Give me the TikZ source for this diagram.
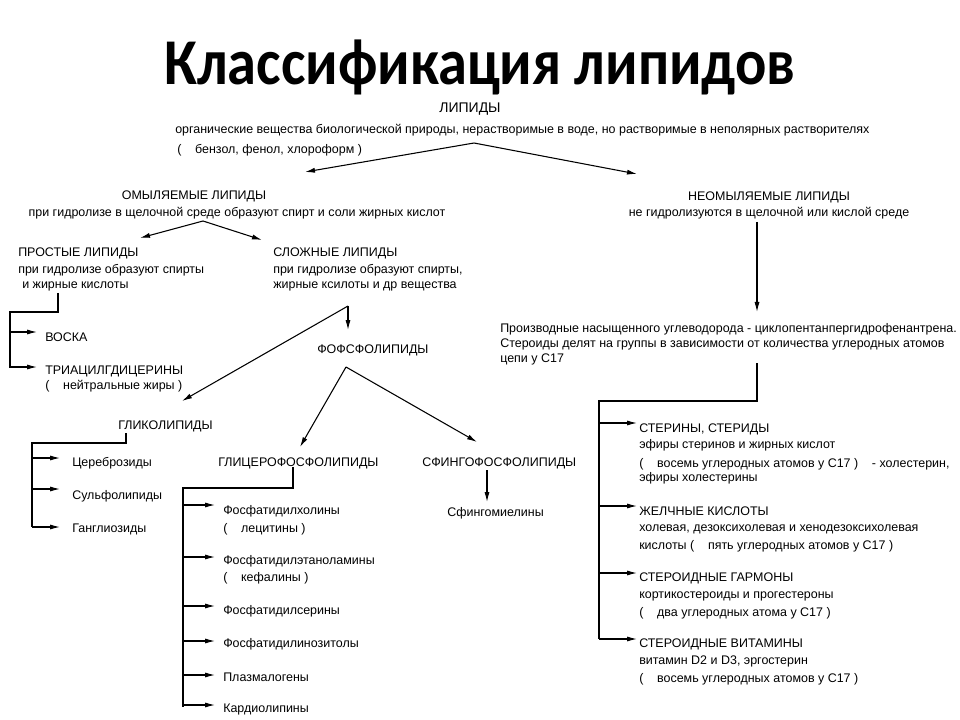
\documentclass[tikz,border=0pt]{standalone}
\usepackage{fontspec}
\usepackage{graphicx}
\setmainfont{Liberation Sans}
\newfontfamily\titlefont{Carlito}
\usetikzlibrary{arrows.meta}
\newcommand{\gp}{\hspace{1.1em}}
\begin{document}
\begin{tikzpicture}[x=0.75pt,y=-0.75pt,
  txt/.style={inner sep=0pt, anchor=west, font=\fontsize{9.35}{11}\selectfont, text height=6pt, text depth=0pt},
  ctr/.style={txt, anchor=center},
  ln/.style={line width=0.8pt, line join=miter},
  arr/.style={ln, -{Latex[length=7.5pt,width=3.8pt]}}]
\useasboundingbox[fill=white] (0,0) rectangle (960,720);

% title
\node[inner sep=0pt, anchor=base, font=\titlefont\bfseries\fontsize{49}{58}\selectfont, text depth=0pt] (title) at (480,85) {\scalebox{0.895}[1]{Классификация липидов}};

% top
\node[ctr, font=\fontsize{10.5}{12}\selectfont] (lip) at (470,109) {ЛИПИДЫ};
\node[txt] (lipd1) at (175,130) {органические вещества биологической природы, нерастворимые в воде, но растворимые в неполярных растворителях};
\node[txt] (lipd2) at (177,150) {(\gp бензол, фенол, хлороформ )};
\coordinate (a0) at (474,143);
\coordinate (a0l) at (305,172);
\coordinate (a0r) at (637,174);
\draw[arr] (a0) -- (a0l);
\draw[arr] (a0) -- (a0r);

\node[ctr] (omyl) at (194,196) {ОМЫЛЯЕМЫЕ ЛИПИДЫ};
\node[ctr] (omyld) at (237,213) {при гидролизе в щелочной среде образуют спирт и соли жирных кислот};
\node[ctr] (neomyl) at (769,197) {НЕОМЫЛЯЕМЫЕ ЛИПИДЫ};
\node[ctr] (neomyld) at (769,213) {не гидролизуются в щелочной или кислой среде};

\coordinate (a1) at (203,221);
\coordinate (a1l) at (140,238);
\coordinate (a1r) at (262,240);
\draw[arr] (a1) -- (a1l);
\draw[arr] (a1) -- (a1r);

% simple lipids
\node[txt] (prost) at (18,253) {ПРОСТЫЕ ЛИПИДЫ};
\node[txt] (prost2) at (18,270) {при гидролизе образуют спирты};
\node[txt] (prost3) at (22,285) {и жирные кислоты};
\node[txt] (voska) at (45,337) {ВОСКА};
\node[txt] (tri) at (45,370) {ТРИАЦИЛГДИЦЕРИНЫ};
\node[txt] (tri2) at (45,385) {(\gp нейтральные жиры )};
\coordinate (p1) at (58,293);
\coordinate (p2) at (58,312);
\coordinate (pb) at (10,312);
\coordinate (pe) at (10,368);
\draw[ln] (p1) -- (p2) -- (pb) -- (pe);
\draw[arr, shorten >=6pt] ([yshift=3.75pt]pb |- voska.west) -- ([yshift=3.75pt]voska.west);
\draw[arr, shorten >=6pt] ([yshift=2.25pt]pb |- tri.west) -- ([yshift=2.25pt]tri.west);

% complex lipids
\node[txt] (sl) at (273,253) {СЛОЖНЫЕ ЛИПИДЫ};
\node[txt] (sl2) at (273,270) {при гидролизе образуют спирты,};
\node[txt] (sl3) at (273,285) {жирные ксилоты и др вещества};
\coordinate (a2) at (348,306);
\coordinate (a2d) at (348,330);
\coordinate (a2l) at (182,401);
\draw[arr] (a2) -- (a2d);
\draw[arr] (a2) -- (a2l);
\node[txt] (fosf) at (317,349) {ФОФСФОЛИПИДЫ};
\coordinate (a3) at (346,367);
\coordinate (a3l) at (300,447);
\coordinate (a3r) at (477,442);
\draw[arr] (a3) -- (a3l);
\draw[arr] (a3) -- (a3r);

% glycolipids
\node[txt] (glyk) at (118,425) {ГЛИКОЛИПИДЫ};
\node[txt] (cer) at (72,462) {Цереброзиды};
\node[txt] (sulf) at (72,495) {Сульфолипиды};
\node[txt] (gang) at (72,528) {Ганглиозиды};
\coordinate (g1) at (126,433);
\coordinate (g2) at (126,443);
\coordinate (gb) at (32,443);
\coordinate (ge) at (32,527);
\draw[ln] (g1) -- (g2) -- (gb) -- (ge);
\foreach \n/\d in {cer/4,sulf/6,gang/1}
  \draw[arr, shorten >=9pt] ([yshift=\d*0.75pt]gb |- \n.west) -- ([yshift=\d*0.75pt]\n.west);

% glycerophospholipids
\node[txt] (glyc) at (218,462) {ГЛИЦЕРОФОСФОЛИПИДЫ};
\node[txt] (fc) at (223,510) {Фосфатидилхолины};
\node[txt] (fc2) at (223,528) {(\gp лецитины )};
\node[txt] (fe) at (223,560) {Фосфатидилэтаноламины};
\node[txt] (fe2) at (223,577) {(\gp кефалины )};
\node[txt] (fs) at (223,610) {Фосфатидилсерины};
\node[txt] (fi) at (223,643) {Фосфатидилинозитолы};
\node[txt] (pl) at (223,677) {Плазмалогены};
\node[txt] (kd) at (223,708) {Кардиолипины};
\coordinate (c1) at (293,467);
\coordinate (c2) at (293,488);
\coordinate (cb) at (183,488);
\coordinate (ce) at (183,707);
\draw[ln] (c1) -- (c2) -- (cb) -- (ce);
\foreach \n/\d in {fc/5,fe/3,fs/4,fi/2,pl/2,kd/3}
  \draw[arr, shorten >=6pt] ([yshift=\d*0.75pt]cb |- \n.west) -- ([yshift=\d*0.75pt]\n.west);

% sphingophospholipids
\node[txt] (sf) at (422,462) {СФИНГОФОСФОЛИПИДЫ};
\node[txt] (sfm) at (447,512) {Сфингомиелины};
\coordinate (s1) at (487,470);
\coordinate (s2) at (487,502);
\draw[arr] (s1) -- (s2);

% unsaponifiable
\coordinate (r1) at (757,222);
\coordinate (r2) at (757,312);
\draw[arr] (r1) -- (r2);
\node[txt] (pr1) at (500,328) {Производные насыщенного углеводорода - циклопентанпергидрофенантрена.};
\node[txt] (pr2) at (500,343) {Стероиды делят на группы в зависимости от количества углеродных атомов};
\node[txt] (pr3) at (500,358) {цепи у С17};
\coordinate (q1) at (757,363);
\coordinate (q2) at (757,401);
\coordinate (qb) at (599,401);
\coordinate (qe) at (599,639);
\draw[ln] (q1) -- (q2) -- (qb) -- (qe);

\node[txt] (st) at (639,428) {СТЕРИНЫ, СТЕРИДЫ};
\node[txt] (st2) at (639,444) {эфиры стеринов и жирных кислот};
\node[txt] (st3) at (639,463) {(\gp восемь углеродных атомов у С17 )\gp- холестерин,};
\node[txt] (st4) at (639,477) {эфиры холестерины};
\node[txt] (zh) at (639,511) {ЖЕЛЧНЫЕ КИСЛОТЫ};
\node[txt] (zh2) at (639,527) {холевая, дезоксихолевая и хенодезоксихолевая};
\node[txt] (zh3) at (639,545) {кислоты (\gp пять углеродных атомов у С17 )};
\node[txt] (gm) at (639,577) {СТЕРОИДНЫЕ ГАРМОНЫ};
\node[txt] (gm2) at (639,594) {кортикостероиды и прогестероны};
\node[txt] (gm3) at (639,612) {(\gp два углеродных атома у С17 )};
\node[txt] (vt) at (639,643) {СТЕРОИДНЫЕ ВИТАМИНЫ};
\node[txt] (vt2) at (639,660) {витамин D2 и D3, эргостерин};
\node[txt] (vt3) at (639,678) {(\gp восемь углеродных атомов у С17 )};
\foreach \n/\d in {st/5,zh/5,gm/4,vt/4}
  \draw[arr, shorten >=1.5pt] ([yshift=\d*0.75pt]qb |- \n.west) -- ([yshift=\d*0.75pt]\n.west);
\end{tikzpicture}
\end{document}
